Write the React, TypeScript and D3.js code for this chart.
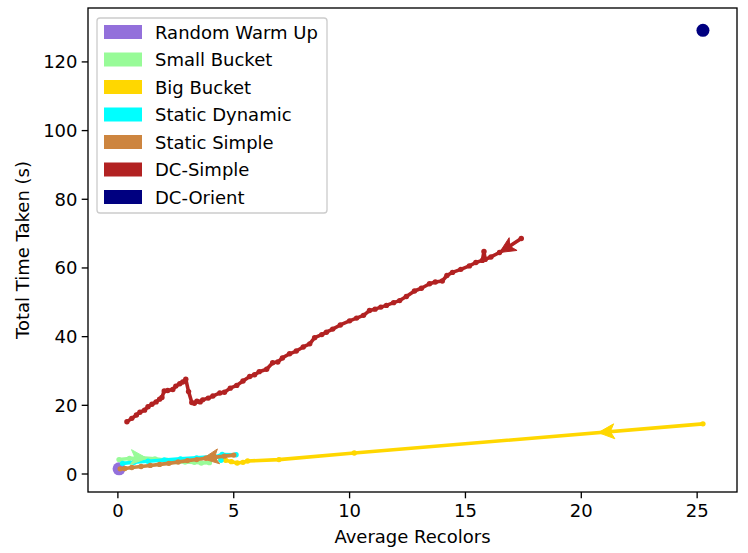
import React from "react";
import * as d3 from "d3";

type Pt = [number, number];

const seriesNames = ["Random Warm Up", "Small Bucket", "Big Bucket", "Static Dynamic", "Static Simple", "DC-Simple", "DC-Orient"];
const seriesColors = ["#9370DB", "#98FB98", "#FFD700", "#00FFFF", "#CD853F", "#B22222", "#000080"];

const randomWarmUp: Pt[] = [[0.05, 1.5]];
const smallBucket: Pt[] = [[0.05, 4.2], [0.5, 4.5], [1.0, 4.7], [1.6, 4.4], [2.1, 4.0], [2.5, 3.6], [2.9, 3.5], [3.3, 3.4], [3.6, 3.2], [3.95, 3.3]];
const bigBucket: Pt[] = [[25.25, 14.6], [10.2, 6.1], [6.95, 4.2], [5.6, 3.8], [5.4, 3.4], [5.15, 3.2], [4.9, 3.6], [4.65, 4.0], [4.45, 4.3]];
const staticDynamic: Pt[] = [[0.2, 3.1], [0.7, 3.4], [1.3, 3.7], [2.0, 4.1], [2.7, 4.4], [3.4, 4.7], [4.0, 5.0], [4.4, 5.2], [4.45, 4.0], [4.5, 5.7], [5.1, 5.6]];
const staticSimple: Pt[] = [[5.0, 5.5], [4.6, 5.2], [4.2, 4.9], [3.8, 4.6], [3.4, 4.2], [3.0, 3.9], [2.6, 3.5], [2.2, 3.1], [1.8, 2.8], [1.4, 2.5], [1.0, 2.2], [0.6, 1.9], [0.3, 1.6], [0.1, 1.5]];
const dcSimple: Pt[] = [
  [0.39, 15.2], [0.6, 16.2], [0.8, 17.2], [0.95, 18.0], [1.15, 18.6], [1.3, 19.6], [1.47, 20.3], [1.65, 21.0], [1.8, 21.8], [1.9, 22.3],
  [2.0, 24.2], [2.15, 24.3], [2.37, 24.6], [2.5, 25.6], [2.67, 26.3], [2.8, 26.8], [2.93, 27.6], [3.05, 24.0], [3.19, 20.8], [3.3, 20.6],
  [3.41, 21.2], [3.55, 21.0], [3.66, 21.6], [3.9, 22.1], [4.1, 22.7], [4.4, 23.6], [4.6, 23.8], [4.85, 25.0], [5.13, 25.8], [5.4, 27.1],
  [5.69, 28.4], [5.9, 28.9], [6.1, 29.8], [6.42, 30.5], [6.68, 32.4], [6.9, 32.6], [7.1, 33.8], [7.41, 35.0], [7.7, 35.8], [8.0, 37.0],
  [8.28, 37.9], [8.49, 39.7], [8.8, 40.6], [9.0, 41.3], [9.27, 42.2], [9.6, 43.4], [10.0, 44.6], [10.3, 45.4], [10.6, 46.2], [10.86, 47.6],
  [11.1, 48.0], [11.35, 48.6], [11.59, 49.1], [11.9, 49.9], [12.16, 50.5], [12.45, 51.7], [12.8, 53.3], [13.1, 54.1], [13.45, 55.4], [13.7, 55.9],
  [14.0, 56.2], [14.2, 57.8], [14.44, 58.7], [14.8, 59.6], [15.17, 60.6], [15.45, 61.6], [15.73, 62.2], [15.8, 64.8], [15.85, 62.5], [16.1, 63.2],
  [16.47, 64.5], [16.9, 66.3], [17.41, 68.6],
];
const dcOrient: Pt[] = [[25.25, 129.2]];

const seriesData: Pt[][] = [randomWarmUp, smallBucket, bigBucket, staticDynamic, staticSimple, dcSimple, dcOrient];

// direction arrows: series index, segment from -> to, fraction
const arrowSeries = [1, 2, 4, 5];
const arrowFrom = [2, 0, 3, 71];
const arrowTo = [3, 1, 4, 70];
const arrowFrac = [0.42, 0.3, 0.35, 1.0];

const xTicks = [0, 5, 10, 15, 20, 25];
const yTicks = [0, 20, 40, 60, 80, 100, 120];

const W = 748, H = 553;
const L = 88, R = 737, T = 8, B = 492;
const FS = 18;
const FONT = "DejaVu Sans, sans-serif";

export default function App() {
  const x = d3.scaleLinear().domain([-1.29, 26.72]).range([L, R]);
  const y = d3.scaleLinear().domain([-5.24, 135.7]).range([B, T]);
  const line = d3.line<Pt>().x(d => x(d[0])).y(d => y(d[1]));

  const arrows = arrowSeries.map((s, k) => {
    const pts = seriesData[s];
    const a = pts[arrowFrom[k]], b = pts[arrowTo[k]];
    const ax = x(a[0]), ay = y(a[1]), bx = x(b[0]), by = y(b[1]);
    const t = arrowFrac[k];
    const tx = ax + (bx - ax) * t, ty = ay + (by - ay) * t;
    const ang = Math.atan2(by - ay, bx - ax);
    const len = 16, hw = 7.5, notch = 4;
    const ux = Math.cos(ang), uy = Math.sin(ang);
    const px = -uy, py = ux;
    const bxp = tx - ux * len, byp = ty - uy * len;
    const nx = tx - ux * (len - notch), ny = ty - uy * (len - notch);
    const d = `M${tx},${ty}L${bxp + px * hw},${byp + py * hw}L${nx},${ny}L${bxp - px * hw},${byp - py * hw}Z`;
    return <path key={"ar" + k} d={d} fill={seriesColors[s]} stroke={seriesColors[s]} strokeWidth={1} strokeLinejoin="miter" />;
  });

  return (
    <svg width={W} height={H} style={{ position: "absolute", left: 0, top: 0, background: "#fff" }} fontFamily={FONT}>
      <rect x={0} y={0} width={W} height={H} fill="#fff" />
      <defs>
        <clipPath id="plotclip"><rect x={L} y={T} width={R - L} height={B - T} /></clipPath>
      </defs>
      <g clipPath="url(#plotclip)">
        {seriesData.map((pts, i) => {
          if (pts.length === 1) {
            return <circle key={"s" + i} cx={x(pts[0][0])} cy={y(pts[0][1])} r={6.5} fill={seriesColors[i]} />;
          }
          return (
            <g key={"s" + i}>
              <path d={line(pts) || ""} fill="none" stroke={seriesColors[i]} strokeWidth={3.6} strokeLinejoin="round" strokeLinecap="butt" />
              {pts.map((p, j) => <circle key={j} cx={x(p[0])} cy={y(p[1])} r={2.7} fill={seriesColors[i]} />)}
            </g>
          );
        })}
        {arrows}
      </g>
      {/* spines */}
      <rect x={L} y={T} width={R - L} height={B - T} fill="none" stroke="#000" strokeWidth={1.33} />
      {/* x ticks */}
      {xTicks.map(t => (
        <g key={"xt" + t}>
          <line x1={x(t)} x2={x(t)} y1={B} y2={B + 6.3} stroke="#000" strokeWidth={1.33} />
          <text x={x(t)} y={B + 11.5} textAnchor="middle" dominantBaseline="hanging" fontSize={FS} fill="#000">{t}</text>
        </g>
      ))}
      {yTicks.map(t => (
        <g key={"yt" + t}>
          <line x1={L} x2={L - 6.3} y1={y(t)} y2={y(t)} stroke="#000" strokeWidth={1.33} />
          <text x={L - 10.5} y={y(t)} textAnchor="end" dominantBaseline="central" fontSize={FS} fill="#000">{t}</text>
        </g>
      ))}
      <text x={(L + R) / 2} y={543} textAnchor="middle" fontSize={FS} fill="#000">Average Recolors</text>
      <text transform={`translate(29,${(T + B) / 2}) rotate(-90)`} textAnchor="middle" fontSize={FS} fill="#000">Total Time Taken (s)</text>
      {/* legend */}
      <g>
        <rect x={97} y={18} width={230} height={195} rx={3} ry={3} fill="#fff" fillOpacity={0.8} stroke="#cccccc" strokeWidth={1.33} />
        {seriesNames.map((n, i) => {
          const cy = 32 + i * 27.5;
          return (
            <g key={"lg" + i}>
              <rect x={104} y={cy - 7} width={38} height={14} fill={seriesColors[i]} />
              <text x={155} y={cy} dominantBaseline="central" fontSize={FS} fill="#000">{n}</text>
            </g>
          );
        })}
      </g>
    </svg>
  );
}
